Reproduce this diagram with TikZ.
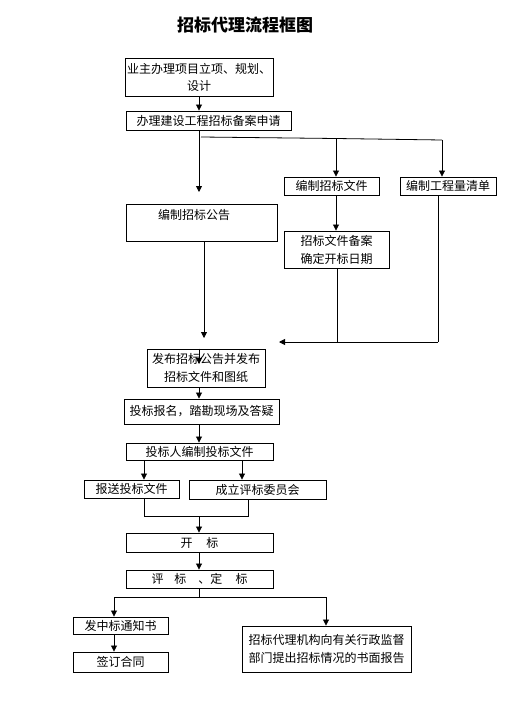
\documentclass[tikz,border=0pt]{standalone}
\usepackage{fontspec}
\newfontfamily\cjk{Noto Sans CJK SC}
\usetikzlibrary{arrows.meta,calc}
\begin{document}
\begin{tikzpicture}[x=1pt,y=-1pt,
  box/.style={draw,line width=0.9pt,inner sep=0pt,align=center,
    font=\cjk\fontsize{12}{18}\selectfont},
  txt/.style={inner sep=0pt,font=\cjk\fontsize{12}{18}\selectfont},
  con/.style={line width=0.8pt},
  arr/.style={line width=0.8pt,-{Triangle[length=6pt,width=6pt]}}]
\useasboundingbox (0,0) rectangle (529,715);
\node[inner sep=0pt,font=\cjk\bfseries\fontsize{17}{20}\selectfont] (title) at (245,25) {招标代理流程框图};
\node[box,minimum width=148pt,minimum height=38pt,font=\cjk\fontsize{12}{17}\selectfont] (b1) at (199,77) {业主办理项目立项、规划、\\设计};
\node[box,minimum width=165pt,minimum height=19pt] (b2) at (208.5,120.5) {办理建设工程招标备案申请};
\node[box,minimum width=151pt,minimum height=37pt] (gg) at (201.5,222.5) {};
\node[txt] (ggt) at (194,215) {编制招标公告};
\node[box,minimum width=95pt,minimum height=18pt] (wj) at (331.5,186) {编制招标文件};
\node[box,minimum width=96pt,minimum height=18pt] (qd) at (448,186) {编制工程量清单};
\node[box,minimum width=105pt,minimum height=37pt] (ba) at (336.5,249.5) {招标文件备案\\确定开标日期};
\node[box,minimum width=118pt,minimum height=38pt] (fb) at (206,368) {发布招标公告并发布\\招标文件和图纸};
\node[box,minimum width=155pt,minimum height=25pt] (bm) at (201.5,411.5) {投标报名，踏勘现场及答疑};
\node[box,minimum width=147pt,minimum height=17pt] (bz) at (199.5,451.5) {投标人编制投标文件};
\node[box,minimum width=95pt,minimum height=18pt] (bs) at (131.5,489) {报送投标文件};
\node[box,minimum width=137pt,minimum height=19pt] (pw) at (257.5,489.5) {成立评标委员会};
\node[box,minimum width=147pt,minimum height=19pt] (kb) at (199.5,542.5) {开\hspace{14pt}标};
\node[box,minimum width=147pt,minimum height=18pt] (pb) at (199.5,579) {评\hspace{11pt}标\hspace{12pt}、定\hspace{13pt}标};
\node[box,minimum width=95pt,minimum height=17pt] (zb) at (120.5,625.5) {发中标通知书};
\node[box,minimum width=95pt,minimum height=20pt] (ht) at (120.5,662) {签订合同};
\node[box,minimum width=169pt,minimum height=46pt] (bg) at (326.5,649) {招标代理机构向有关行政监督\\部门提出招标情况的书面报告};
% coordinates
\coordinate (a1) at (199,192);
\coordinate (h1) at (201,137);
\coordinate (h2) at (336,138.5);
\coordinate (h3) at (442,140);
\coordinate (a2) at (204,338);
\coordinate (j1) at (337,342);
\coordinate (j2) at (438,342);
\coordinate (a3) at (279,342);
\coordinate (f1) at (199,364);
\coordinate (m1) at (144,516);
\coordinate (m2) at (199,516);
\coordinate (m3) at (248,516);
\coordinate (m4) at (242,470);
\coordinate (p0) at (199,597);
\coordinate (p1) at (114,597);
\coordinate (p2) at (326,597);
% connectors
\draw[arr] (b1.south) -- (b1.south |- b2.north);
\draw[arr] (b1.south |- b2.south) -- (a1);
\draw[con] (h1) -- (h2) -- (h3);
\draw[arr] (h2) -- (h2 |- wj.north);
\draw[arr] (h3) -- (h3 |- qd.north);
\draw[arr] (h2 |- wj.south) -- (h2 |- ba.north);
\draw[arr] (a2 |- gg.south) -- (a2);
\draw[con] (j1 |- ba.south) -- (j1);
\draw[con] (j2 |- qd.south) -- (j2);
\draw[arr] (j2) -- (a3);
\draw[arr] (f1 |- fb.north) -- (f1);
\draw[arr] (b1.south |- fb.south) -- (b1.south |- bm.north);
\draw[arr] (b1.south |- bm.south) -- (b1.south |- bz.north);
\draw[arr] (m1 |- bz.south) -- (m1 |- bs.north);
\draw[arr] (m4 |- bz.south) -- (m4 |- pw.north);
\draw[con] (m1 |- bs.south) -- (m1) -- (m3) -- (m3 |- pw.south);
\draw[arr] (m2) -- (m2 |- kb.north);
\draw[arr] (m2 |- kb.south) -- (m2 |- pb.north);
\draw[con] (m2 |- pb.south) -- (p0);
\draw[con] (p1) -- (p2);
\draw[arr] (p1) -- (p1 |- zb.north);
\draw[arr] (p2) -- (p2 |- bg.north);
\draw[arr] (p1 |- zb.south) -- (p1 |- ht.north);
\end{tikzpicture}
\end{document}
